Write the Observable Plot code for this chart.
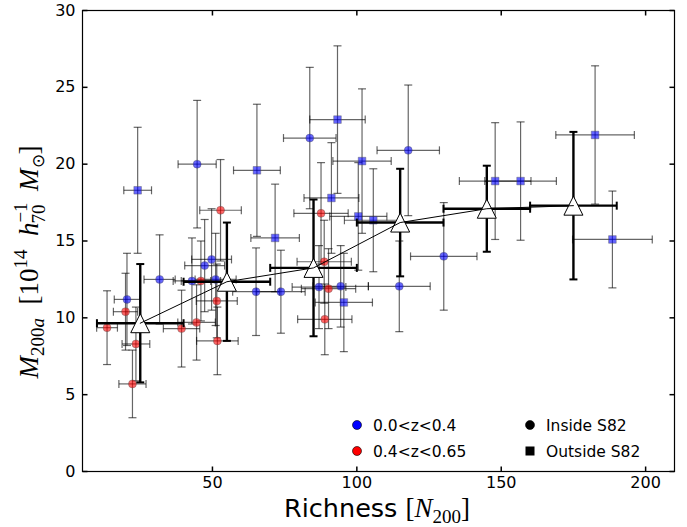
<!DOCTYPE html>
<html><head><meta charset="utf-8">
<script src="https://cdn.jsdelivr.net/npm/d3@7"></script>
<script src="https://cdn.jsdelivr.net/npm/@observablehq/plot@0.6"></script>
<style>body{margin:0;background:#fff}</style>
</head><body><div id="chart"></div>
<script>
const xTicks = [50, 100, 150, 200];
const yTicks = [0, 5, 10, 15, 20, 25, 30];

// 0.0<z<0.4, inside S82 (blue circles)
const lowInN    = [20.4, 31.7, 42.9, 44.7, 47.3, 49.7, 51.1, 65.1, 73.7, 83.7, 86.9, 94.4, 114.7, 117.8, 130.1];
const lowInM    = [11.2, 12.5, 12.4, 20.0, 13.4, 13.8, 12.5, 11.7, 11.7, 21.7, 12.0, 12.05, 12.05, 20.9, 14.0];
const lowInNErr = [4.4, 5.4, 6.5, 6.6, 6.9, 6.9, 7.1, 8.1, 8.4, 9.1, 9.3, 9.6, 10.7, 10.8, 11.5];
const lowInMErr = [3.0, 2.9, 2.8, 4.15, 3.0, 3.3, 3.0, 2.85, 2.7, 4.6, 2.7, 2.65, 2.95, 4.25, 3.5];

// 0.0<z<0.4, outside S82 (blue squares)
const lowOutN    = [24.1, 65.4, 71.7, 93.3, 91.2, 101.8, 100.5, 105.7, 95.5, 147.9, 156.7, 182.5, 188.5];
const lowOutM    = [18.3, 19.6, 15.2, 22.9, 17.8, 20.2, 16.6, 16.35, 11.0, 18.9, 18.9, 21.9, 15.1];
const lowOutNErr = [4.8, 8.1, 8.4, 9.6, 9.5, 10.1, 9.9, 10.0, 9.9, 12.4, 12.4, 13.6, 13.8];
const lowOutMErr = [4.1, 4.3, 3.5, 4.8, 3.6, 4.7, 3.5, 3.35, 3.2, 3.8, 3.85, 4.5, 3.15];

// 0.4<z<0.65, inside S82 (red circles)
const highInN    = [13.5, 19.9, 23.5, 22.3, 39.3, 44.5, 46.0, 51.5, 51.7, 52.8, 87.6, 88.7, 90.2, 88.9];
const highInM    = [9.36, 10.4, 8.3, 5.7, 9.3, 9.7, 12.4, 11.1, 8.5, 17.0, 16.8, 13.65, 11.9, 9.9];
const highInNErr = [3.6, 4.2, 4.8, 4.7, 6.3, 6.5, 6.8, 7.1, 7.2, 7.2, 9.4, 9.4, 9.4, 9.4];
const highInMErr = [2.4, 2.5, 2.4, 2.2, 2.5, 2.45, 2.6, 2.4, 2.2, 3.3, 3.3, 2.7, 2.6, 2.3];

// binned averages (triangles)
const binN    = [25, 55, 85, 115, 145, 175];
const binM    = [9.65, 12.35, 13.25, 16.2, 17.1, 17.3];
const binNErr = [15, 15, 15, 15, 15, 15];
const binMErr = [3.85, 3.85, 4.45, 3.5, 2.8, 4.8];

const legendZ = ["0.0<z<0.4", "0.4<z<0.65"];
const legendRegion = ["Inside S82", "Outside S82"];

function rows(N, M, NE, ME, color, shape) {
  return N.map((x, i) => ({x, y: M[i], xe: NE[i], ye: ME[i], color, shape}));
}
const pts = [
  ...rows(lowInN, lowInM, lowInNErr, lowInMErr, "blue", "circle"),
  ...rows(lowOutN, lowOutM, lowOutNErr, lowOutMErr, "blue", "square"),
  ...rows(highInN, highInM, highInNErr, highInMErr, "red", "circle")
];
const bins = binN.map((x, i) => ({x, y: binM[i], xe: binNErr[i], ye: binMErr[i]}));

const seg = (w, h) => ({draw(ctx) { ctx.moveTo(-w, -h); ctx.lineTo(w, h); }});
const hCap = seg(4, 0), vCap = seg(0, 4);
const tickUp = {draw(c){c.moveTo(0,0);c.lineTo(0,-5);}};
const tickDown = {draw(c){c.moveTo(0,0);c.lineTo(0,5);}};
const tickRight = {draw(c){c.moveTo(0,0);c.lineTo(5,0);}};
const tickLeft = {draw(c){c.moveTo(0,0);c.lineTo(-5,0);}};
const tri = {draw(c){c.moveTo(0,-9.5);c.lineTo(9.5,9.5);c.lineTo(-9.5,9.5);c.closePath();}};

const xMin = 5, xMax = 210, yMin = 0, yMax = 30;
const vEnds = d => d.flatMap(p => [{x: p.x, y: p.y - p.ye}, {x: p.x, y: p.y + p.ye}]);
const hEnds = d => d.flatMap(p => [{x: p.x - p.xe, y: p.y}, {x: p.x + p.xe, y: p.y}]);
const errStyle = {stroke: "#000", strokeOpacity: 0.6, strokeWidth: 1.2};
const binStyle = {stroke: "#000", strokeWidth: 2.4};

const chart = Plot.plot({
  width: 687, height: 527,
  marginLeft: 82, marginRight: 13, marginTop: 10, marginBottom: 56,
  x: {domain: [xMin, xMax], ticks: xTicks, tickSize: 0, tickPadding: 5, label: null},
  y: {domain: [yMin, yMax], ticks: yTicks, tickSize: 0, tickPadding: 7, label: null},
  style: {fontFamily: "DejaVu Sans", fontSize: "16px", background: "#fff", color: "#000"},
  marks: [
    Plot.link(pts, {x1: d => d.x - d.xe, x2: d => d.x + d.xe, y1: "y", y2: "y", ...errStyle}),
    Plot.link(pts, {x1: "x", x2: "x", y1: d => d.y - d.ye, y2: d => d.y + d.ye, ...errStyle}),
    Plot.dot(vEnds(pts), {x: "x", y: "y", symbol: hCap, fill: "none", ...errStyle}),
    Plot.dot(hEnds(pts), {x: "x", y: "y", symbol: vCap, fill: "none", ...errStyle}),
    Plot.dot(pts.filter(d => d.shape === "circle"), {x: "x", y: "y", r: 4, symbol: "circle", fill: d => d.color, fillOpacity: 0.6, stroke: "#555", strokeOpacity: 0.5, strokeWidth: 0.8}),
    Plot.dot(pts.filter(d => d.shape === "square"), {x: "x", y: "y", r: 4.3, symbol: "square", fill: d => d.color, fillOpacity: 0.6, stroke: "#555", strokeOpacity: 0.5, strokeWidth: 0.8}),
    Plot.link(bins, {x1: d => d.x - d.xe, x2: d => d.x + d.xe, y1: "y", y2: "y", ...binStyle}),
    Plot.link(bins, {x1: "x", x2: "x", y1: d => d.y - d.ye, y2: d => d.y + d.ye, ...binStyle}),
    Plot.dot(vEnds(bins), {x: "x", y: "y", symbol: hCap, fill: "none", stroke: "#000", strokeWidth: 2}),
    Plot.dot(hEnds(bins), {x: "x", y: "y", symbol: vCap, fill: "none", stroke: "#000", strokeWidth: 2}),
    Plot.dot(bins, {x: "x", y: "y", symbol: tri, fill: "#fff", stroke: "#000", strokeWidth: 1}),
    Plot.line(bins, {x: "x", y: "y", stroke: "#000", strokeWidth: 1}),
    Plot.dot(xTicks, {x: d => d, y: yMin, symbol: tickUp, fill: "none", stroke: "#000"}),
    Plot.dot(xTicks, {x: d => d, y: yMax, symbol: tickDown, fill: "none", stroke: "#000"}),
    Plot.dot(yTicks, {x: xMin, y: d => d, symbol: tickRight, fill: "none", stroke: "#000"}),
    Plot.dot(yTicks, {x: xMax, y: d => d, symbol: tickLeft, fill: "none", stroke: "#000"}),
    Plot.frame({stroke: "#000", strokeWidth: 1.2})
  ]
});
document.getElementById("chart").appendChild(chart);

const svg = d3.select(chart);
// legend
const lg = svg.append("g").attr("font-family", "DejaVu Sans").attr("font-size", 15.5).attr("text-anchor", "start");
const legendItems = [
  {label: legendZ[0], x: 357, y: 425, shape: "circle", fill: "blue"},
  {label: legendZ[1], x: 357, y: 451, shape: "circle", fill: "red"},
  {label: legendRegion[0], x: 530, y: 425, shape: "circle", fill: "#000"},
  {label: legendRegion[1], x: 530, y: 451, shape: "square", fill: "#000"}
];
legendItems.forEach(it => {
  if (it.shape === "circle") lg.append("circle").attr("cx", it.x).attr("cy", it.y).attr("r", 4.5).attr("fill", it.fill).attr("stroke", "#000").attr("stroke-width", 0.6);
  else lg.append("rect").attr("x", it.x - 4.5).attr("y", it.y - 4.5).attr("width", 9).attr("height", 9).attr("fill", it.fill);
  lg.append("text").attr("x", it.x + 16).attr("y", it.y).attr("dy", "0.36em").attr("text-anchor", "start").text(it.label);
});

// x label
const xl = svg.append("text").attr("x", 377).attr("y", 517).attr("text-anchor", "middle");
xl.append("tspan").attr("font-family", "DejaVu Sans").attr("font-size", 25.5).text("Richness ");
xl.append("tspan").attr("font-family", "Liberation Serif").attr("font-size", 27).text("[");
xl.append("tspan").attr("font-family", "Liberation Serif").attr("font-size", 27).attr("font-style", "italic").text("N");
xl.append("tspan").attr("font-family", "Liberation Serif").attr("font-size", 19).attr("dy", 6).text("200");
xl.append("tspan").attr("font-family", "Liberation Serif").attr("font-size", 27).attr("dy", -6).text("]");

// y label
const yl = svg.append("text").attr("transform", "translate(38,262) rotate(-90)").attr("text-anchor", "middle")
  .attr("font-family", "Liberation Serif").attr("font-size", 27);
const ts = (t, o = {}) => { const s = yl.append("tspan").text(t); Object.entries(o).forEach(([k, v]) => s.attr(k, v)); return s; };
ts("M", {"font-style": "italic"});
ts("200", {"font-size": 19, dy: 6});
ts("a", {"font-size": 19, "font-style": "italic"});
ts("\u00a0\u00a0[10", {dy: -6});
ts("14", {"font-size": 19, dy: -11});
ts("\u00a0\u00a0", {dy: 11});
ts("h", {"font-style": "italic"});
ts("\u22121", {"font-size": 19, dy: -11});
ts("70", {"font-size": 19, dx: -21, dy: 18});
ts("\u00a0\u00a0", {dy: -7});
ts("M", {"font-style": "italic"});
ts("\u2299", {"font-size": 17, dy: 6});
ts("]", {dy: -6});
</script>
</body></html>
